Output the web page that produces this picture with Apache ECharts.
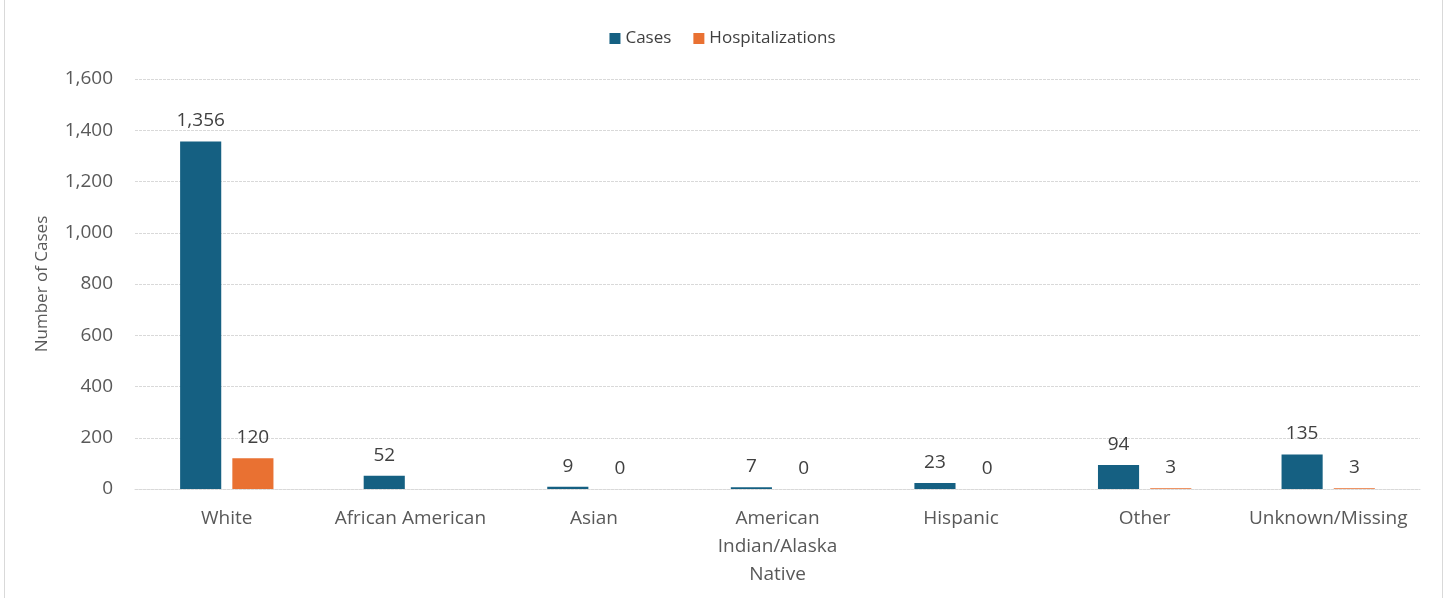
<!DOCTYPE html>
<html>
<head>
<meta charset="utf-8">
<script src="https://cdn.jsdelivr.net/npm/echarts@6/dist/echarts.min.js"></script>
<style>
  html, body { margin: 0; padding: 0; background: #fff; }
  #chart { width: 1445px; height: 598px; }
</style>
</head>
<body>
<div id="chart"></div>
<script>
// Cases and hospitalizations by race
const categories = ['White', 'African American', 'Asian', 'American\nIndian/Alaska\nNative', 'Hispanic', 'Other', 'Unknown/Missing'];
const cases = [1356, 52, 9, 7, 23, 94, 135];
// no hospitalization figure reported for African American
const hospitalizations = [120, null, 0, 0, 0, 3, 3];
const yTicks = { min: 0, max: 1600, interval: 200 };

const textColor = '#595959';
const font = 'Open Sans';

const chart = echarts.init(document.getElementById('chart'), null, { renderer: 'canvas' });

const labelStyle = {
  show: true,
  position: 'top',
  distance: 11,
  color: '#404040',
  fontFamily: font,
  fontSize: 19,
  formatter: p => (p.value == null ? '' : Number(p.value).toLocaleString('en-US'))
};

chart.setOption({
  animation: false,
  backgroundColor: '#ffffff',
  graphic: [
    { type: 'line', shape: { x1: 4.5, y1: 0, x2: 4.5, y2: 598 }, style: { stroke: '#d9d9d9', lineWidth: 1 } },
    { type: 'line', shape: { x1: 1442.5, y1: 0, x2: 1442.5, y2: 598 }, style: { stroke: '#d9d9d9', lineWidth: 1 } }
  ],
  legend: {
    top: 25,
    left: 'center',
    itemWidth: 11,
    itemHeight: 11,
    itemGap: 22,
    itemStyle: { borderWidth: 0 },
    icon: 'rect',
    textStyle: { color: '#404040', fontFamily: font, fontSize: 17 },
    data: ['Cases', 'Hospitalizations']
  },
  grid: { left: 135, right: 25, top: 79, bottom: 109, containLabel: false },
  xAxis: {
    type: 'category',
    data: categories,
    axisLine: { show: true, lineStyle: { color: '#d9d9d9', type: [3, 1] } },
    axisTick: { show: false },
    axisLabel: {
      color: textColor,
      fontFamily: font,
      fontSize: 19,
      margin: 16,
      lineHeight: 28,
      interval: 0
    }
  },
  yAxis: {
    type: 'value',
    min: yTicks.min,
    max: yTicks.max,
    interval: yTicks.interval,
    name: 'Number of Cases',
    nameLocation: 'middle',
    nameGap: 84,
    nameTextStyle: { color: textColor, fontFamily: font, fontSize: 17 },
    axisLine: { show: false },
    axisTick: { show: false },
    axisLabel: {
      color: textColor,
      fontFamily: font,
      fontSize: 19,
      margin: 22,
      formatter: v => v.toLocaleString('en-US')
    },
    splitLine: { lineStyle: { color: '#d9d9d9', type: [3, 1] } }
  },
  series: [
    {
      name: 'Cases',
      type: 'bar',
      data: cases,
      barWidth: '22.4%',
      barGap: '27%',
      itemStyle: { color: '#156082' },
      label: labelStyle
    },
    {
      name: 'Hospitalizations',
      type: 'bar',
      data: hospitalizations,
      barWidth: '22.4%',
      barMinHeight: 0,
      itemStyle: { color: '#E97132' },
      label: labelStyle
    }
  ]
});
</script>
</body>
</html>
